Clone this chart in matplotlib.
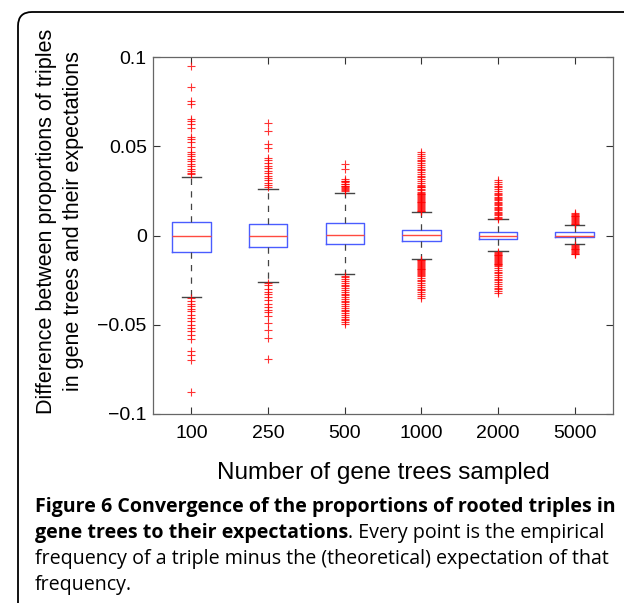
import matplotlib
matplotlib.use("Agg")
import matplotlib.pyplot as plt
from matplotlib.patches import FancyBboxPatch
from matplotlib.transforms import IdentityTransform
from matplotlib.ticker import FixedLocator, FixedFormatter

# ---------------- data ----------------
categories = ["100", "250", "500", "1000", "2000", "5000"]
medians = [0.0, -0.0003, 0.0005, 0.0002, 0.0, 0.0]
q1 = [-0.0095, -0.0065, -0.0045, -0.0032, -0.0022, -0.0011]
q3 = [0.0075, 0.0062, 0.0071, 0.0030, 0.0022, 0.0017]
whis_lo = [-0.0345, -0.0262, -0.0218, -0.0130, -0.0088, -0.0050]
whis_hi = [0.0330, 0.0258, 0.0239, 0.0130, 0.0090, 0.0058]

fliers_100 = [0.0952, 0.0831, 0.0756, 0.0738, 0.0655, 0.0640, 0.0626, 0.0603, 0.0553,
              0.0538, 0.0523, 0.0495, 0.0469, 0.0458, 0.0444, 0.0430, 0.0416, 0.0402,
              0.0388, 0.0375, 0.0360, 0.0351, 0.0342,
              -0.0349, -0.0368, -0.0381, -0.0396, -0.0411, -0.0424, -0.0443, -0.0461,
              -0.0480, -0.0499, -0.0517, -0.0536, -0.0555, -0.0579, -0.0648, -0.0672,
              -0.0695, -0.0876]
fliers_250 = [0.0631, 0.0584, 0.0510, 0.0491, 0.0435, 0.0422, 0.0407, 0.0392, 0.0379,
              0.0364, 0.0351, 0.0336, 0.0323, 0.0310, 0.0295, 0.0282, 0.0271,
              -0.0265, -0.0280, -0.0297, -0.0314, -0.0330, -0.0347, -0.0364, -0.0381,
              -0.0398, -0.0415, -0.0431, -0.0452, -0.0489, -0.0527, -0.0573, -0.0691]
fliers_500 = [0.0398, 0.0374, 0.0314, 0.0308, 0.0303, 0.0297, 0.0291, 0.0286, 0.0280,
              0.0275, 0.0269, 0.0264, 0.0258, 0.0253, 0.0248,
              -0.0225, -0.0235, -0.0245, -0.0255, -0.0265, -0.0275, -0.0285, -0.0295,
              -0.0305, -0.0315, -0.0325, -0.0335, -0.0345, -0.0355, -0.0365, -0.0375,
              -0.0385, -0.0395, -0.0405, -0.0415, -0.0425, -0.0435, -0.0445, -0.0455,
              -0.0465, -0.0475, -0.0485, -0.0495]
fliers_1000 = [0.0465, 0.0455, 0.0445, 0.0435, 0.0425, 0.0415, 0.0405, 0.0395, 0.0385,
               0.0375, 0.0365, 0.0355, 0.0345, 0.0335, 0.0325, 0.0315, 0.0305, 0.0295,
               0.0285, 0.0278, 0.0274, 0.0270, 0.0262, 0.0254, 0.0246, 0.0240, 0.0235,
               0.0230, 0.0225, 0.0220, 0.0215, 0.0210, 0.0205, 0.0200, 0.0195, 0.0190,
               0.0185, 0.0180, 0.0175, 0.0170, 0.0165, 0.0160, 0.0155, 0.0150, 0.0145,
               0.0140, 0.0135,
               -0.0135, -0.0140, -0.0145, -0.0150, -0.0155, -0.0160, -0.0165, -0.0170,
               -0.0175, -0.0180, -0.0185, -0.0190, -0.0195, -0.0200, -0.0205, -0.0210,
               -0.0215, -0.0220, -0.0227, -0.0237, -0.0247, -0.0257, -0.0267, -0.0277,
               -0.0287, -0.0297, -0.0307, -0.0317, -0.0327, -0.0338, -0.0350]
fliers_2000 = [0.0310, 0.0300, 0.0290, 0.0280, 0.0270, 0.0260, 0.0250, 0.0240, 0.0232,
               0.0225, 0.0218, 0.0211, 0.0204, 0.0197, 0.0190, 0.0183, 0.0176, 0.0169,
               0.0162, 0.0155, 0.0148, 0.0141, 0.0134, 0.0127, 0.0120, 0.0113, 0.0106,
               0.0099, 0.0094,
               -0.0092, -0.0097, -0.0102, -0.0107, -0.0112, -0.0117, -0.0122, -0.0127,
               -0.0132, -0.0137, -0.0142, -0.0147, -0.0152, -0.0157, -0.0162, -0.0167,
               -0.0172, -0.0182, -0.0192, -0.0202, -0.0212, -0.0222, -0.0232, -0.0242,
               -0.0252, -0.0262, -0.0272, -0.0282, -0.0292, -0.0302, -0.0312, -0.0320]
fliers_5000 = [0.0127, 0.0122, 0.0117, 0.0112, 0.0107, 0.0102, 0.0097, 0.0092, 0.0087,
               0.0082, 0.0077, 0.0072, 0.0067, 0.0062,
               -0.0053, -0.0058, -0.0063, -0.0068, -0.0073, -0.0078, -0.0083, -0.0088,
               -0.0093, -0.0098, -0.0103, -0.0106]
fliers = [fliers_100, fliers_250, fliers_500, fliers_1000, fliers_2000, fliers_5000]

ytick_vals = [-0.1, -0.05, 0, 0.05, 0.1]
ytick_labels = ["\u22120.1", "\u22120.05", "0", "0.05", "0.1"]

ylabel = "Difference between proportions of triples\nin gene trees and their expectations"
xlabel = "Number of gene trees sampled"
cap_line1 = "Figure 6 Convergence of the proportions of rooted triples in"
cap_line2_bold = "gene trees to their expectations"
cap_line2_reg = ". Every point is the empirical"
cap_line3 = "frequency of a triple minus the (theoretical) expectation of that"
cap_line4 = "frequency."

# ---------------- figure ----------------
W, H = 624, 603
fig = plt.figure(figsize=(W / 100, H / 100), dpi=100)
fig.patch.set_facecolor("white")

ax = fig.add_axes([153 / W, 1 - 414 / H, 460 / W, 357 / H])

stats = []
for i in range(len(categories)):
    stats.append(dict(med=medians[i], q1=q1[i], q3=q3[i],
                      whislo=whis_lo[i], whishi=whis_hi[i], fliers=fliers[i]))

positions = list(range(1, len(categories) + 1))
ax.bxp(stats, positions=positions, widths=0.5, showfliers=True,
       boxprops=dict(color="#4a5cff", linewidth=1.0),
       medianprops=dict(color="#ff4a40", linewidth=1.0),
       whiskerprops=dict(color="#444444", linestyle=(0, (5, 5)), linewidth=0.9),
       capprops=dict(color="#444444", linewidth=1.0),
       flierprops=dict(marker="+", markeredgecolor="red", markersize=6,
                       markeredgewidth=0.8, linestyle="none", alpha=0.8))

ax.set_xlim(0.5, len(categories) + 0.5)
ax.set_ylim(-0.1, 0.1)
ax.xaxis.set_major_locator(FixedLocator(positions))
ax.xaxis.set_major_formatter(FixedFormatter(categories))
ax.yaxis.set_major_locator(FixedLocator(ytick_vals))
ax.yaxis.set_major_formatter(FixedFormatter(ytick_labels))

ax.tick_params(direction="in", top=True, right=True, length=5, width=0.8,
               colors="#333333", labelcolor="black", labelsize=14)
ax.tick_params(axis="x", pad=8)
ax.tick_params(axis="y", pad=4.5)
for lab in ax.get_xticklabels() + ax.get_yticklabels():
    lab.set_fontfamily("Liberation Sans")
for s in ax.spines.values():
    s.set_color("#666666")
    s.set_linewidth(0.9)

fig.text(383 / W, 1 - 473 / H, xlabel, ha="center", va="center",
         fontsize=17.5, family="Liberation Sans")

fig.text(60 / W, 1 - 221 / H, ylabel, rotation=90, ha="center", va="center",
         fontsize=15.5, family="Liberation Sans", linespacing=1.35)

# border
border = FancyBboxPatch((18, -30), 700, (H - 12) + 30,
                        boxstyle="round,pad=0,rounding_size=14",
                        transform=IdentityTransform(), facecolor="none",
                        edgecolor="black", linewidth=1.3)
fig.patches.append(border)

# caption
cfont = "Open Sans"
csize = 14.1
x0 = 35 / W
fig.text(x0, 1 - 507 / H, cap_line1, fontsize=csize, family=cfont,
         weight="bold", va="center", ha="left")
t2 = fig.text(x0, 1 - 533 / H, cap_line2_bold, fontsize=csize, family=cfont,
              weight="bold", va="center", ha="left")
renderer = fig.canvas.get_renderer()
bb = t2.get_window_extent(renderer=renderer)
fig.text(bb.x1 / W, 1 - 533 / H, cap_line2_reg, fontsize=csize, family=cfont,
         va="center", ha="left")
fig.text(x0, 1 - 559 / H, cap_line3, fontsize=csize, family=cfont,
         va="center", ha="left")
fig.text(x0, 1 - 585 / H, cap_line4, fontsize=csize, family=cfont,
         va="center", ha="left")

fig.savefig("out.png", dpi=100)
